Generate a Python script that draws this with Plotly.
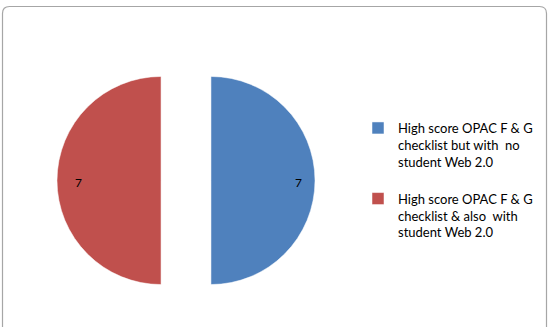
import math
import plotly.graph_objects as go

labels = [
    "High score OPAC F &amp; G<br>checklist but with  no<br>student Web 2.0<br>",
    "High score OPAC F &amp; G<br>checklist &amp; also  with<br>student Web 2.0",
]
values = [7, 7]
colors = ["#4F81BD", "#C0504D"]
pulls = [0.24, 0.24]

W, H = 557, 327
dom_x = [57 / W, 315 / W]
dom_y = [1 - 309.5 / H, 1 - 51.5 / H]

fig = go.Figure(go.Pie(
    labels=labels,
    values=values,
    marker=dict(colors=colors, line=dict(color="white", width=0.5)),
    sort=False,
    direction="clockwise",
    rotation=0,
    pull=pulls,
    textinfo="none",
    domain=dict(x=dom_x, y=dom_y),
    hoverinfo="label+value",
))

# value labels near the outer edge of each slice (computed from pie geometry)
cx = (dom_x[0] + dom_x[1]) / 2 * W
cy = (1 - (dom_y[0] + dom_y[1]) / 2) * H
r = min((dom_x[1] - dom_x[0]) * W, (dom_y[1] - dom_y[0]) * H) / 2 / (1 + max(pulls))
total = sum(values)
start = 0.0
for v, p in zip(values, pulls):
    mid = start + v / total / 2
    ang = mid * 2 * math.pi  # clockwise from 12 o'clock
    dx, dy = math.sin(ang), -math.cos(ang)
    if abs(dy) < 1e-9:
        dy = 0.0
    pcx, pcy = cx + dx * p * r, cy + dy * p * r
    lx, ly = pcx + dx * 0.845 * r, pcy + dy * 0.845 * r + 2
    fig.add_annotation(x=lx / W, y=1 - ly / H, xref="paper", yref="paper",
                       text=str(v), showarrow=False,
                       font=dict(family="Lato, Liberation Sans, sans-serif", size=12, color="#000000"))
    start += v / total

# rounded chart border
x0, y0, x1, y1, rr = 2.5, 6.5, 546.5, 340, 7
path = (f"M {x0+rr},{y0} L {x1-rr},{y0} Q {x1},{y0} {x1},{y0+rr} L {x1},{y1-rr} "
        f"Q {x1},{y1} {x1-rr},{y1} L {x0+rr},{y1} Q {x0},{y1} {x0},{y1-rr} "
        f"L {x0},{y0+rr} Q {x0},{y0} {x0+rr},{y0} Z")

def px2paper(s):
    out = []
    for tok in s.split():
        if "," in tok:
            a, b = tok.split(",")
            out.append(f"{float(a)/W:.5f},{1-float(b)/H:.5f}")
        else:
            out.append(tok)
    return " ".join(out)

fig.add_shape(type="path", xref="paper", yref="paper", path=px2paper(path),
              line=dict(color="#A6A6A6", width=1.2), fillcolor="rgba(0,0,0,0)")

fig.update_layout(
    width=W, height=H,
    margin=dict(l=0, r=0, t=0, b=0),
    paper_bgcolor="white",
    plot_bgcolor="white",
    showlegend=True,
    legend=dict(
        x=358 / W, y=1 - 113 / H, xanchor="left", yanchor="top",
        font=dict(family="Lato, Liberation Sans, sans-serif", size=13, color="#000000"),
        itemwidth=30,
        valign="top",
        bgcolor="rgba(0,0,0,0)",
    ),
)

fig.write_html("out.html")
